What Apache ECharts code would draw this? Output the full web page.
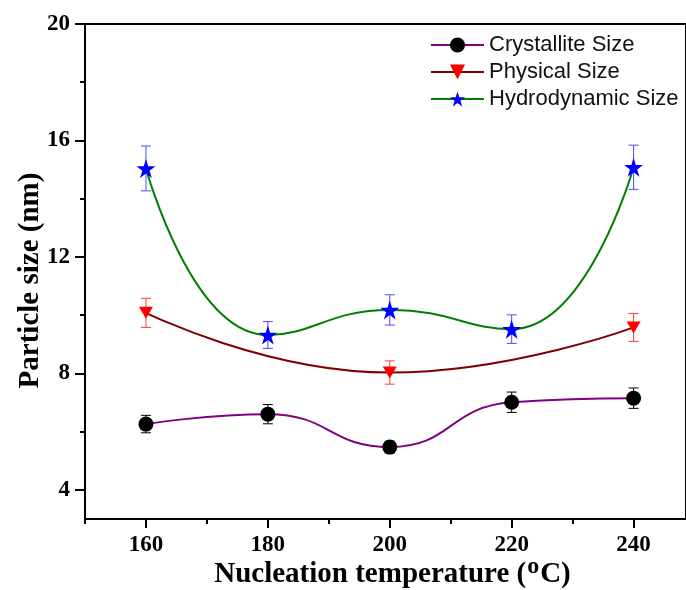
<!DOCTYPE html>
<html>
<head>
<meta charset="utf-8">
<script src="https://cdn.jsdelivr.net/npm/echarts@6/dist/echarts.min.js"></script>
<style>
  html, body { margin: 0; padding: 0; background: #fff; }
  #chart { width: 686px; height: 590px; }
</style>
</head>
<body>
<div id="chart"></div>
<script>
// ---- data ----
const temps = [160, 180, 200, 220, 240];
const crystallite = [6.26, 6.60, 5.47, 7.01, 7.15];
const crystalliteErr = [0.30, 0.33, 0.20, 0.35, 0.35];
const physTemps = [160, 200, 240];
const physical = [10.08, 8.03, 9.58];
const physicalErr = [0.50, 0.40, 0.48];
const hydro = [15.04, 9.32, 10.18, 9.52, 15.08];
const hydroErr = [0.77, 0.46, 0.52, 0.49, 0.76];
const xMajorTicks = [160, 180, 200, 220, 240];
const xMinorTicks = [150, 170, 190, 210, 230];
const yMajorTicks = [4, 8, 12, 16, 20];
const yMinorTicks = [6, 10, 14, 18];
const seriesNames = ['Crystallite Size', 'Physical Size', 'Hydrodynamic Size'];

const STAR = 'path://M50,0 L61.8,36.2 L100,36.2 L69.1,58.8 L80.9,95.1 L50,72.6 L19.1,95.1 L30.9,58.8 L0,36.2 L38.2,36.2 Z';
const serif = '"Liberation Serif", "Times New Roman", serif';

function pairs(xs, ys) { return xs.map((x, i) => [x, ys[i]]); }
function errData(xs, ys, es) { return xs.map((x, i) => [x, ys[i] - es[i], ys[i] + es[i]]); }

function errorSeries(xs, ys, es, color) {
  return {
    type: 'custom',
    z: 1,
    silent: true,
    data: errData(xs, ys, es),
    encode: { x: 0, y: [1, 2] },
    renderItem: function (params, api) {
      const x = api.value(0);
      const lo = api.coord([x, api.value(1)]);
      const hi = api.coord([x, api.value(2)]);
      const hw = 5;
      const st = { stroke: color, lineWidth: 1 };
      return {
        type: 'group',
        children: [
          { type: 'line', shape: { x1: lo[0], y1: lo[1], x2: hi[0], y2: hi[1] }, style: st },
          { type: 'line', shape: { x1: lo[0] - hw, y1: lo[1], x2: lo[0] + hw, y2: lo[1] }, style: st },
          { type: 'line', shape: { x1: hi[0] - hw, y1: hi[1], x2: hi[0] + hw, y2: hi[1] }, style: st }
        ]
      };
    }
  };
}

const chart = echarts.init(document.getElementById('chart'), null, { renderer: 'canvas' });
chart.setOption({
  animation: false,
  backgroundColor: '#fff',
  grid: {
    left: 85, top: 24, right: 0, bottom: 71,
    containLabel: false, outerBoundsMode: 'none',
    show: true, borderWidth: 2, borderColor: '#000', backgroundColor: 'transparent'
  },
  legend: {
    orient: 'vertical',
    left: 425, top: 28,
    itemWidth: 53, itemHeight: 19, itemGap: 3,
    data: seriesNames,
    textStyle: { fontFamily: '"Liberation Sans", Arial, sans-serif', fontSize: 22, lineHeight: 24, color: '#111' }
  },
  xAxis: [
    {
      type: 'value', min: 150, max: 248.6, position: 'bottom',
      name: '{m|Nucleation temperature (}{sup|o}{m|C)}',
      nameLocation: 'middle', nameGap: 36, nameMoveOverlap: false,
      nameTextStyle: {
        fontFamily: serif, fontWeight: 'bold', fontSize: 29, color: '#000',
        padding: [0, 0, 0, 14],
        rich: {
          m: { fontFamily: serif, fontWeight: 'bold', fontSize: 29, color: '#000', lineHeight: 34, verticalAlign: 'bottom' },
          sup: { fontFamily: serif, fontWeight: 'bold', fontSize: 24, color: '#000', lineHeight: 34, verticalAlign: 'top', padding: [0, 1, 0, 1] }
        }
      },
      splitLine: { show: false },
      axisLine: { show: true, onZero: false, lineStyle: { color: '#000', width: 2 } },
      axisTick: { show: true, length: 9, customValues: xMajorTicks, lineStyle: { color: '#000', width: 2 } },
      axisLabel: { customValues: xMajorTicks, margin: 15, fontFamily: serif, fontWeight: 'bold', fontSize: 23, color: '#000' }
    },
    {
      type: 'value', min: 150, max: 248.6, position: 'bottom', offset: 0,
      splitLine: { show: false },
      axisLine: { show: false, onZero: false },
      axisTick: { show: true, length: 5, customValues: xMinorTicks, lineStyle: { color: '#000', width: 2 } },
      axisLabel: { show: false }
    }
  ],
  yAxis: [
    {
      type: 'value', min: 3, max: 20, position: 'left',
      name: 'Particle size (nm)',
      nameLocation: 'middle', nameGap: 40, nameMoveOverlap: false,
      nameTextStyle: { fontFamily: serif, fontWeight: 'bold', fontSize: 29, color: '#000', padding: [0, 18, 0, 0] },
      splitLine: { show: false },
      axisLine: { show: true, onZero: false, lineStyle: { color: '#000', width: 2 } },
      axisTick: { show: true, length: 10, customValues: yMajorTicks, lineStyle: { color: '#000', width: 2 } },
      axisLabel: { customValues: yMajorTicks, margin: 15, fontFamily: serif, fontWeight: 'bold', fontSize: 23, color: '#000' }
    },
    {
      type: 'value', min: 3, max: 20, position: 'left', offset: 0,
      splitLine: { show: false },
      axisLine: { show: false, onZero: false },
      axisTick: { show: true, length: 5, customValues: yMinorTicks, lineStyle: { color: '#000', width: 2 } },
      axisLabel: { show: false }
    }
  ],
  series: [
    errorSeries(temps, crystallite, crystalliteErr, '#000000'),
    errorSeries(physTemps, physical, physicalErr, '#ff3b3b'),
    errorSeries(temps, hydro, hydroErr, '#4a4aff'),
    {
      name: seriesNames[0], type: 'line', smooth: 0.5, z: 3,
      data: pairs(temps, crystallite),
      symbol: 'circle', symbolSize: 15,
      itemStyle: { color: '#000' },
      lineStyle: { color: '#800080', width: 2 }
    },
    {
      name: seriesNames[1], type: 'line', smooth: 0.5, z: 3,
      data: pairs(physTemps, physical),
      symbol: 'triangle', symbolSize: [14, 12], symbolRotate: 180,
      itemStyle: { color: '#ff0000' },
      lineStyle: { color: '#800000', width: 2 }
    },
    {
      name: seriesNames[2], type: 'line', smooth: 0.5, z: 3,
      data: pairs(temps, hydro),
      symbol: STAR, symbolSize: 19,
      itemStyle: { color: '#0000ff' },
      lineStyle: { color: '#008000', width: 2 }
    }
  ]
});
</script>
</body>
</html>
